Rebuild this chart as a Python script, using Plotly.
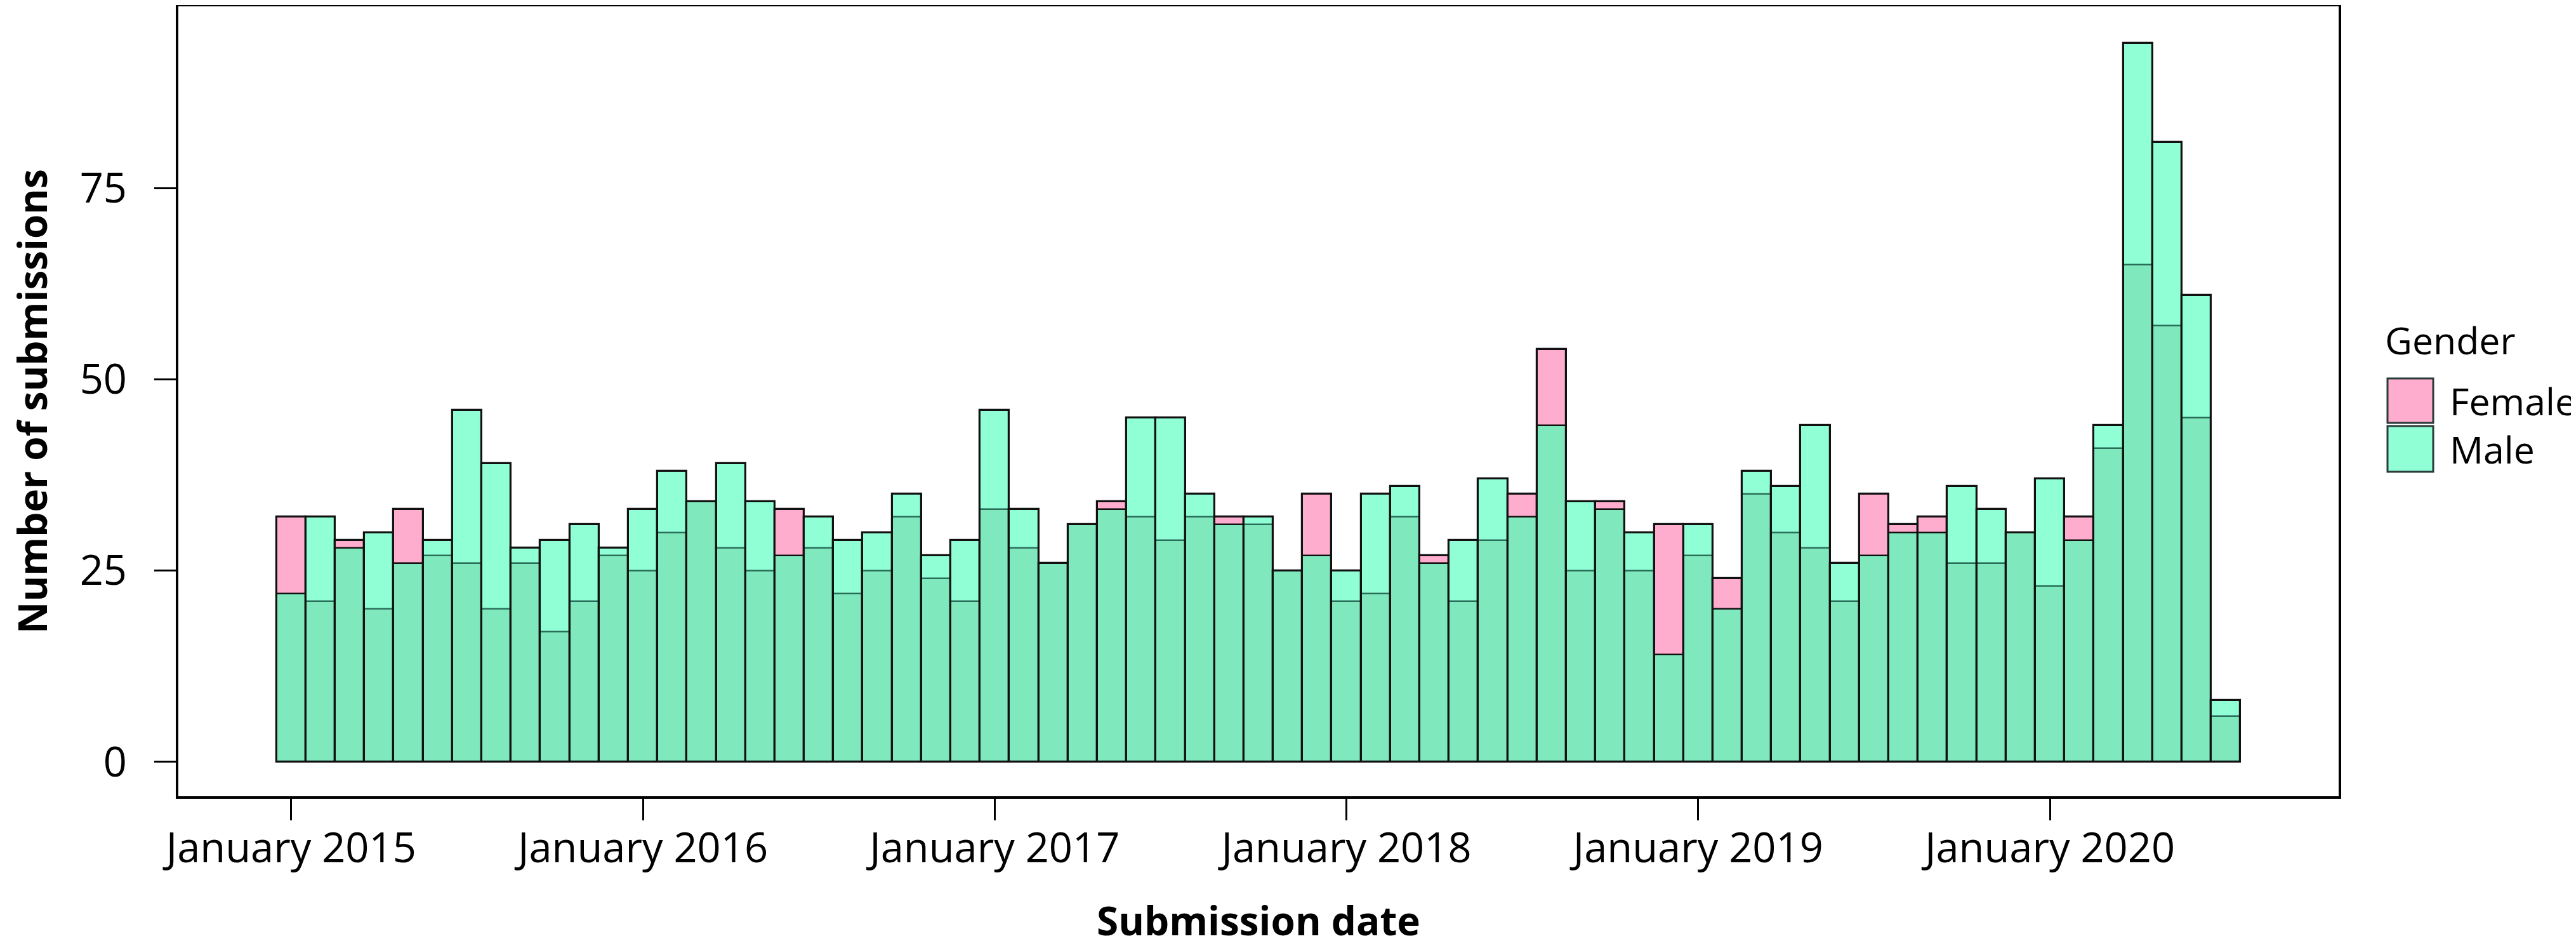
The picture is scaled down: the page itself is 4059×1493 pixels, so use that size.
import plotly.graph_objects as go

# ---- data (monthly submission counts) ----
months = [f"{y}-{m:02d}" for y in range(2015, 2021) for m in range(1, 13)][:67]  # 2015-01 .. 2020-07

female = [32, 21, 29, 20, 33, 27, 26, 20, 26, 17, 21, 27,
          25, 30, 34, 28, 25, 33, 28, 22, 25, 32, 24, 21,
          33, 28, 26, 31, 34, 32, 29, 32, 32, 31, 25, 35,
          21, 22, 32, 27, 21, 29, 35, 54, 25, 34, 25, 31,
          27, 24, 35, 30, 28, 21, 35, 31, 32, 26, 26, 30,
          23, 32, 41, 65, 57, 45, 6]
male = [22, 32, 28, 30, 26, 29, 46, 39, 28, 29, 31, 28,
        33, 38, 34, 39, 34, 27, 32, 29, 30, 35, 27, 29,
        46, 33, 26, 31, 33, 45, 45, 35, 31, 32, 25, 27,
        25, 35, 36, 26, 29, 37, 32, 44, 34, 33, 30, 14,
        31, 20, 38, 36, 44, 26, 27, 30, 30, 36, 33, 30,
        37, 29, 44, 94, 81, 61, 8]

tick_months = ["2015-01", "2016-01", "2017-01", "2018-01", "2019-01", "2020-01"]
tick_labels = ["January 2015", "January 2016", "January 2017",
               "January 2018", "January 2019", "January 2020"]
y_ticks = [0, 25, 50, 75]

genders = ["Female", "Male"]
colors = {"Female": "#FFADCE", "Male": "#90FFD6"}
overlap_color = "#7FE8BC"
edge = "#111111"
inner_teal = "#2A6E5A"

both = [min(f, m) for f, m in zip(female, male)]
tallest = [max(f, m) for f, m in zip(female, male)]
inner_line = [edge if f > m else inner_teal for f, m in zip(female, male)]

FONT = "Open Sans"
TICK_SIZE = 65
LEG_SIZE = 59
TITLE_SIZE = 62

fig = go.Figure()
fig.add_trace(go.Bar(x=months, y=female, name="Female",
                     marker=dict(color=colors["Female"], line=dict(width=0)),
                     showlegend=False))
fig.add_trace(go.Bar(x=months, y=male, name="Male",
                     marker=dict(color=colors["Male"], line=dict(width=0)),
                     showlegend=False))
fig.add_trace(go.Bar(x=months, y=both, name="Both",
                     marker=dict(color=overlap_color, line=dict(width=2.5, color=inner_line)),
                     showlegend=False, hoverinfo="skip"))
fig.add_trace(go.Bar(x=months, y=tallest, name="outline",
                     marker=dict(color="rgba(0,0,0,0)", line=dict(width=3.2, color=edge)),
                     showlegend=False, hoverinfo="skip"))

# plot panel in pixels
PL, PR, PT, PB = 273, 3677, 2, 1246
W, H = 4059, 1493


def px(x):
    return (x - PL) / (PR - PL)


def py(y):
    return (PB - y) / (PB - PT)


fig.update_layout(
    template="none",
    width=W, height=H,
    margin=dict(l=PL, r=W - PR, t=PT, b=H - PB, pad=0),
    barmode="overlay", bargap=0,
    paper_bgcolor="white", plot_bgcolor="white",
    font=dict(family=FONT, size=TICK_SIZE, color="black"),
    showlegend=False,
)

fig.update_xaxes(
    type="category", categoryorder="array", categoryarray=months,
    range=[-3.85, 69.85], autorange=False,
    showgrid=False, zeroline=False,
    showline=True, mirror=True, linecolor="black", linewidth=4,
    ticks="outside", ticklen=34, tickwidth=3, tickcolor="black",
    tickvals=tick_months, ticktext=tick_labels,
    tickfont=dict(family=FONT, size=TICK_SIZE, color="black"),
    ticklabelstandoff=-12,
    title=dict(text="Submission date", standoff=55,
               font=dict(family=FONT, size=TITLE_SIZE, color="black", weight="bold")),
    automargin=False,
)
fig.update_yaxes(
    range=[-4.5, 98.8], autorange=False,
    showgrid=False, zeroline=False,
    showline=True, mirror=True, linecolor="black", linewidth=4,
    ticks="outside", ticklen=34, tickwidth=3, tickcolor="black",
    tickvals=y_ticks,
    tickfont=dict(family=FONT, size=TICK_SIZE, color="black"),
    ticklabelstandoff=30,
    title=dict(text="Number of submissions", standoff=80,
               font=dict(family=FONT, size=TITLE_SIZE, color="black", weight="bold")),
    automargin=False,
)

# legend drawn by hand so the keys can be as large as in the reference
key_rows = {"Female": (588, 658), "Male": (663, 735)}
shapes = []
annotations = [dict(text="Gender", x=px(3748), y=py(527), xref="paper", yref="paper",
                    xanchor="left", yanchor="middle", showarrow=False,
                    font=dict(family=FONT, size=LEG_SIZE, color="black"))]
for g in genders:
    top, bot = key_rows[g]
    shapes.append(dict(type="rect", xref="paper", yref="paper",
                       x0=px(3754), x1=px(3826), y0=py(bot), y1=py(top),
                       fillcolor=colors[g], line=dict(color="#2b3a3a", width=3)))
    annotations.append(dict(text=g, x=px(3850), y=py((top + bot) / 2), xref="paper", yref="paper",
                            xanchor="left", yanchor="middle", showarrow=False,
                            font=dict(family=FONT, size=LEG_SIZE, color="black")))
fig.update_layout(shapes=shapes, annotations=annotations)

fig.write_html("out.html")
